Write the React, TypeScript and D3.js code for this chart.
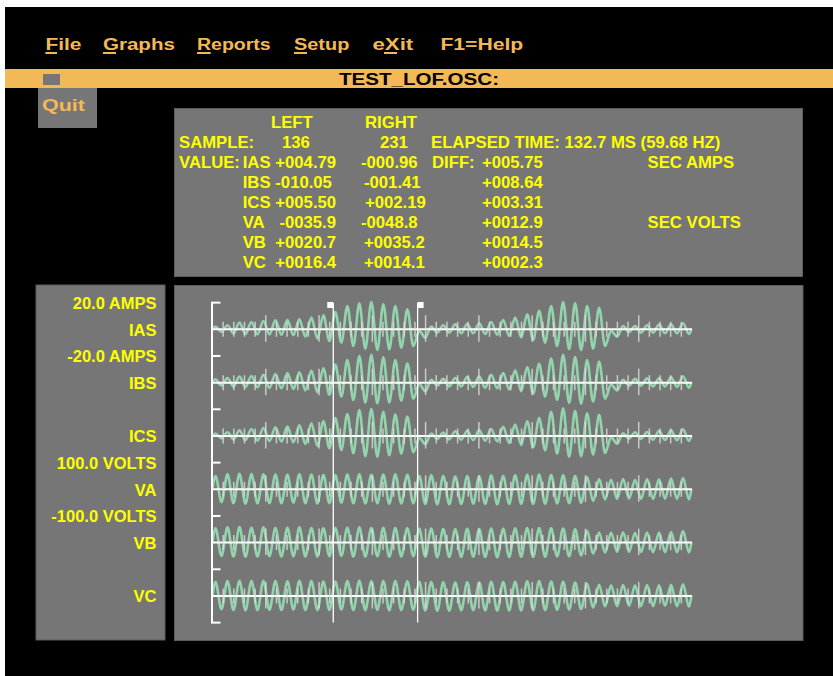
import React from 'react';
import * as d3 from 'd3';

// ---------- menu / title ----------
const MENU_ITEMS = ['File', 'Graphs', 'Reports', 'Setup', 'eXit', 'F1=Help'];
const MENU_HOTKEY = [0, 0, 0, 0, 1, -1];
const FILE_TITLE = 'TEST_LOF.OSC:';
const QUIT_LABEL = 'Quit';

// ---------- readout ----------
const CURSOR_SAMPLES = [136, 231];
const ELAPSED_TEXT = 'ELAPSED TIME: 132.7 MS (59.68 HZ)';
const CHANNELS = ['IAS', 'IBS', 'ICS', 'VA', 'VB', 'VC'];
const LEFT_VALUES = ['+004.79', '-010.05', '+005.50', '-0035.9', '+0020.7', '+0016.4'];
const RIGHT_VALUES = ['-000.96', '-001.41', '+002.19', '-0048.8', '+0035.2', '+0014.1'];
const DIFF_VALUES = ['+005.75', '+008.64', '+003.31', '+0012.9', '+0014.5', '+0002.3'];
const UNIT_TEXTS = ['SEC AMPS', 'SEC VOLTS'];

// ---------- scale labels ----------
const CURRENT_RANGE = 20;
const VOLTAGE_RANGE = 100;
const SCALE_LABELS = ['20.0 AMPS', '-20.0 AMPS', '100.0 VOLTS', '-100.0 VOLTS'];

// ---------- time axis ----------
const TOTAL_SAMPLES = 540;
const MINOR_STEP = 12;
const MAJOR_STEP = 60;
const TOTAL_CYCLES = 40;

// ---------- waveform extremes per cycle (peak, trough) ----------
const IAS_PEAKS = [2.0, 3.0, 5.0, 5.5, 6.2, 6.8, 7.0, 7.5, 8.8, 10.5, 13.0, 17.5, 19.5, 20.5, 18.8, 17.5, 15.0, -1.2, 2.0, 3.0, 3.8, 4.0, 4.5, 5.5, 7.0, 8.8, 11.2, 13.8, 17.5, 20.5, 19.5, 17.5, 16.2, -1.2, 2.5, 2.5, 3.0, 3.5, 3.8, 4.5];
const IAS_TROUGHS = [-2.0, -3.0, -3.5, -3.8, -3.8, -4.0, -4.5, -5.5, -7.0, -8.8, -10.0, -12.5, -14.5, -15.5, -15.0, -13.8, -12.5, -6.2, -2.5, -2.5, -3.0, -3.0, -3.5, -4.0, -5.0, -6.2, -8.0, -10.0, -12.5, -15.0, -15.5, -14.5, -12.5, -5.5, -2.0, -2.5, -2.5, -3.0, -3.0, -3.5];
const IBS_PEAKS = [2.5, 3.5, 4.5, 5.0, 5.8, 6.5, 7.2, 7.8, 9.0, 10.8, 13.5, 17.0, 20.0, 20.8, 19.0, 17.0, 14.5, -1.0, 2.2, 2.8, 3.5, 4.2, 4.8, 5.8, 7.2, 9.2, 11.5, 14.2, 18.0, 20.8, 19.2, 17.0, 15.8, -1.5, 2.2, 2.8, 3.2, 3.2, 4.0, 4.8];
const IBS_TROUGHS = [-2.2, -2.8, -3.2, -3.5, -4.0, -4.2, -4.8, -5.8, -7.2, -9.0, -10.5, -13.0, -15.0, -15.5, -14.8, -13.5, -12.0, -6.5, -2.2, -2.8, -2.8, -3.2, -3.8, -4.2, -5.2, -6.5, -8.2, -10.5, -13.0, -15.2, -15.8, -14.2, -12.0, -5.8, -2.2, -2.2, -2.8, -2.8, -3.2, -3.8];
const ICS_PEAKS = [1.8, 2.8, 4.2, 5.2, 6.0, 6.5, 7.0, 8.0, 9.5, 11.0, 13.5, 16.5, 19.5, 20.2, 18.2, 16.0, 14.5, -1.5, 1.8, 2.5, 3.5, 3.8, 4.5, 5.2, 6.8, 8.5, 11.0, 13.5, 18.2, 20.8, 18.8, 17.0, 15.8, -1.0, 2.0, 2.8, 3.0, 3.8, 4.2, 5.0];
const ICS_TROUGHS = [-1.8, -2.5, -3.0, -3.5, -3.8, -4.2, -4.8, -6.0, -7.5, -9.2, -10.5, -13.0, -15.2, -15.5, -14.5, -13.2, -12.2, -6.0, -2.2, -2.5, -2.8, -3.2, -3.5, -4.0, -5.2, -6.8, -8.5, -10.8, -13.2, -15.5, -15.2, -14.0, -12.8, -5.8, -2.0, -2.2, -2.8, -3.0, -3.2, -3.8];
const VA_PEAKS = [50, 56, 58, 57, 56, 55, 54, 56, 55, 53, 52, 55, 56, 54, 55, 56, 54, 50, 52, 50, 48, 50, 49, 52, 50, 52, 54, 55, 53, 52, 50, 45, 38, 36, 38, 36, 38, 37, 40, 42];
const VA_TROUGHS = [-48, -52, -54, -53, -52, -52, -50, -52, -53, -52, -50, -52, -53, -52, -54, -53, -52, -55, -56, -56, -55, -54, -55, -56, -55, -54, -55, -54, -53, -52, -50, -44, -38, -36, -35, -36, -36, -35, -36, -38];
const VB_PEAKS = [54, 57, 58, 56, 57, 55, 56, 57, 55, 54, 55, 56, 57, 55, 56, 55, 54, 52, 53, 51, 50, 52, 51, 53, 52, 54, 55, 55, 54, 53, 50, 44, 38, 37, 39, 37, 38, 38, 40, 43];
const VB_TROUGHS = [-50, -52, -53, -52, -51, -52, -51, -52, -52, -51, -50, -52, -52, -51, -53, -52, -51, -53, -55, -54, -54, -53, -54, -55, -54, -53, -54, -53, -52, -51, -48, -42, -37, -35, -35, -35, -36, -35, -36, -37];
const VC_PEAKS = [52, 56, 57, 56, 57, 56, 55, 57, 56, 54, 54, 56, 57, 55, 56, 56, 55, 52, 52, 51, 50, 51, 50, 53, 52, 53, 55, 56, 54, 53, 50, 46, 42, 40, 41, 40, 41, 40, 42, 44];
const VC_TROUGHS = [-50, -53, -54, -53, -52, -53, -51, -53, -53, -52, -51, -53, -53, -52, -54, -53, -52, -54, -55, -55, -54, -53, -54, -55, -54, -54, -54, -53, -52, -51, -49, -44, -39, -38, -37, -38, -38, -37, -38, -40];

const SERIES = [
  { peaks: IAS_PEAKS, troughs: IAS_TROUGHS, range: CURRENT_RANGE },
  { peaks: IBS_PEAKS, troughs: IBS_TROUGHS, range: CURRENT_RANGE },
  { peaks: ICS_PEAKS, troughs: ICS_TROUGHS, range: CURRENT_RANGE },
  { peaks: VA_PEAKS, troughs: VA_TROUGHS, range: VOLTAGE_RANGE },
  { peaks: VB_PEAKS, troughs: VB_TROUGHS, range: VOLTAGE_RANGE },
  { peaks: VC_PEAKS, troughs: VC_TROUGHS, range: VOLTAGE_RANGE },
];

// ---------- styling / layout ----------
const W = 833;
const H = 676;
const FONT = '"Liberation Sans", Arial, Helvetica, sans-serif';
const ORANGE = '#f4b957';
const YELLOW = '#ffff00';
const PANEL = '#767676';
const TRACE = '#93d4ad';

const MENU_LAYOUT = [
  { x: 45.4, w: 36, u: [45.4, 57] },
  { x: 102.9, w: 72, u: [102.9, 116] },
  { x: 197, w: 73.7, u: [197, 210.7] },
  { x: 294, w: 55.3, u: [294, 307] },
  { x: 372.5, w: 40.7, u: [384, 397] },
  { x: 440.4, w: 82.8, u: null },
];

const PLOT_X0 = 212.5;
const PLOT_X1 = 692;
const TRACE_TOP = 329.3;
const TRACE_STEP = 53.33;
const HALF = 26.67;

export default function App() {
  const xSample = d3.scaleLinear().domain([0, TOTAL_SAMPLES]).range([PLOT_X0, PLOT_X1]);
  const xCycle = d3.scaleLinear().domain([0, TOTAL_CYCLES]).range([PLOT_X0, PLOT_X1]);
  const bases = CHANNELS.map((_, i) => TRACE_TOP + TRACE_STEP * i);

  const tickSamples = d3.range(MINOR_STEP, TOTAL_SAMPLES, MINOR_STEP);

  const traces = SERIES.map((s, i) => {
    const y = d3.scaleLinear().domain([-s.range, s.range]).range([bases[i] + HALF, bases[i] - HALF]);
    const pts: { c: number; v: number }[] = [{ c: 0, v: 0 }];
    s.peaks.forEach((p, k) => {
      pts.push({ c: k + 0.25, v: p });
      pts.push({ c: k + 0.75, v: s.troughs[k] });
    });
    pts.push({ c: TOTAL_CYCLES - 0.05, v: 0 });
    const line = d3
      .line<{ c: number; v: number }>()
      .x((d) => xCycle(d.c))
      .y((d) => y(d.v))
      .curve(d3.curveMonotoneX);
    return line(pts) || '';
  });

  const textStyle = { fontFamily: FONT, fontWeight: 700 } as const;

  const rowY = (r: number) => 127.5 + 20 * r;
  const leftX = [275.3, 275.3, 275.3, 279.4, 275.3, 275.3];
  const rightX = [361, 364, 365, 361, 364, 364];

  const scaleLabelY = [bases[0] - HALF, bases[0] + HALF, bases[3] - HALF, bases[3] + HALF];
  const axisTicksY = [...bases.map((b) => b - HALF), bases[5] + HALF];

  return (
    <svg
      width={W}
      height={H}
      style={{ position: 'absolute', left: 0, top: 0, background: '#fff' }}
    >
      <rect x={5} y={7} width={W - 5} height={H - 7} fill="#000" />

      {/* menu */}
      {MENU_ITEMS.map((m, i) => (
        <g key={m}>
          <text
            x={MENU_LAYOUT[i].x}
            y={50}
            fontSize={16}
            fill={ORANGE}
            textLength={MENU_LAYOUT[i].w}
            lengthAdjust="spacingAndGlyphs"
            style={textStyle}
          >
            {m}
          </text>
          {MENU_HOTKEY[i] >= 0 && MENU_LAYOUT[i].u && (
            <rect
              x={MENU_LAYOUT[i].u![0]}
              y={52}
              width={MENU_LAYOUT[i].u![1] - MENU_LAYOUT[i].u![0]}
              height={2}
              fill={ORANGE}
            />
          )}
        </g>
      ))}

      {/* title bar */}
      <rect x={5} y={69} width={W - 5} height={19} fill={ORANGE} />
      <rect x={43} y={74} width={17} height={11} fill={PANEL} />
      <text x={339} y={85} fontSize={16} fill="#000" textLength={160} lengthAdjust="spacingAndGlyphs" style={textStyle}>
        {FILE_TITLE}
      </text>

      {/* quit */}
      <rect x={38} y={88} width={59} height={40} fill={PANEL} />
      <text x={42} y={111} fontSize={16.5} fill={ORANGE} textLength={43} lengthAdjust="spacingAndGlyphs" style={textStyle}>
        {QUIT_LABEL}
      </text>

      {/* readout panel */}
      <rect x={174.5} y={108.5} width={628} height={168} fill={PANEL} stroke="#5c5c5c" strokeWidth={1} />
      <g fontSize={16.7} fill={YELLOW} style={textStyle}>
        <text x={271} y={rowY(0)}>LEFT</text>
        <text x={365} y={rowY(0)}>RIGHT</text>
        <text x={179} y={rowY(1)}>SAMPLE:</text>
        <text x={282} y={rowY(1)}>{CURSOR_SAMPLES[0]}</text>
        <text x={380} y={rowY(1)}>{CURSOR_SAMPLES[1]}</text>
        <text x={431} y={rowY(1)}>{ELAPSED_TEXT}</text>
        <text x={179} y={rowY(2)}>VALUE:</text>
        <text x={432} y={rowY(2)}>DIFF:</text>
        <text x={647.6} y={rowY(2)}>{UNIT_TEXTS[0]}</text>
        <text x={647.6} y={rowY(5)}>{UNIT_TEXTS[1]}</text>
        {CHANNELS.map((c, i) => (
          <g key={c}>
            <text x={242.7} y={rowY(2 + i)}>{c}</text>
            <text x={leftX[i]} y={rowY(2 + i)}>{LEFT_VALUES[i]}</text>
            <text x={rightX[i]} y={rowY(2 + i)}>{RIGHT_VALUES[i]}</text>
            <text x={482} y={rowY(2 + i)}>{DIFF_VALUES[i]}</text>
          </g>
        ))}
      </g>

      {/* left label panel */}
      <rect x={36} y={285} width={129} height={355} fill={PANEL} stroke="#5c5c5c" strokeWidth={1} />
      <g fontSize={16.5} fill={YELLOW} textAnchor="end" style={textStyle}>
        {SCALE_LABELS.map((l, i) => (
          <text key={l} x={156.5} y={scaleLabelY[i] + 6}>{l}</text>
        ))}
        {CHANNELS.map((c, i) => (
          <text key={c} x={156.5} y={bases[i] + 6.5}>{c}</text>
        ))}
      </g>

      {/* plot panel */}
      <rect x={174.5} y={285.5} width={628.5} height={355} fill={PANEL} stroke="#5c5c5c" strokeWidth={1} />

      {/* waveforms */}
      {traces.map((d, i) => (
        <path key={i} d={d} fill="none" stroke={TRACE} strokeWidth={2.6} strokeLinejoin="round" />
      ))}

      {/* baselines + time ticks */}
      {bases.map((b, i) => (
        <g key={i}>
          <line x1={PLOT_X0 - 0.5} x2={PLOT_X1} y1={b} y2={b} stroke="#fff" strokeWidth={2} />
          {tickSamples.map((s) => {
            const major = s % MAJOR_STEP === 0;
            return (
              <line
                key={s}
                x1={xSample(s)}
                x2={xSample(s)}
                y1={b - (major ? 14 : 7.5)}
                y2={b + (major ? 12.5 : 7.5)}
                stroke="rgba(222,222,222,0.8)"
                strokeWidth={1.5}
              />
            );
          })}
        </g>
      ))}

      {/* left axis */}
      <line x1={PLOT_X0 - 0.5} x2={PLOT_X0 - 0.5} y1={axisTicksY[0]} y2={axisTicksY[axisTicksY.length - 1]} stroke="#fff" strokeWidth={2} />
      {axisTicksY.map((y, i) => (
        <line key={i} x1={PLOT_X0 - 1.5} x2={PLOT_X0 + 8} y1={y} y2={y} stroke="#fff" strokeWidth={2} />
      ))}

      {/* cursors */}
      {CURSOR_SAMPLES.map((s, i) => {
        const x = xSample(s);
        return (
          <g key={s}>
            <line x1={x} x2={x} y1={axisTicksY[0]} y2={axisTicksY[axisTicksY.length - 1]} stroke="#fff" strokeWidth={1.3} />
            <rect x={i === 0 ? x - 6 : x} y={302} width={6} height={6} fill="#fff" />
          </g>
        );
      })}
    </svg>
  );
}
